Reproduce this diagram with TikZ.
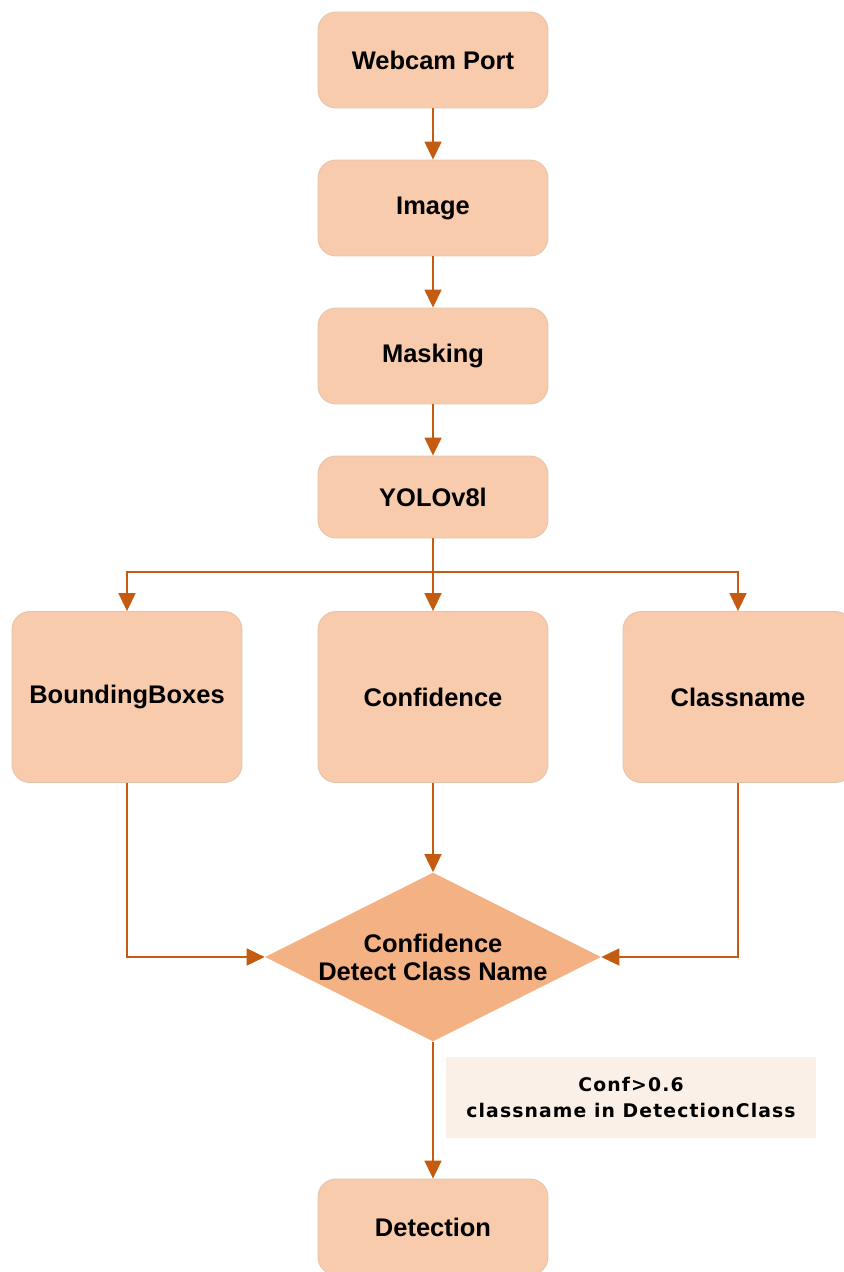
\documentclass[tikz,border=0pt]{standalone}
\usepackage{fontspec}
\usepackage{xcolor}
\usepackage{tikz}
\usetikzlibrary{arrows.meta,shapes.geometric}
\setmainfont{Liberation Sans}
\newfontfamily\notefont[LetterSpace=6]{DejaVu Sans}
\definecolor{boxfill}{HTML}{F8CBAD}
\definecolor{boxline}{HTML}{E4C3A9}
\definecolor{diafill}{HTML}{F4B183}
\definecolor{arrcol}{HTML}{C55A11}
\definecolor{notefill}{HTML}{FBF0E7}
\tikzset{
	proc/.style={draw=boxline,line width=0.5pt,fill=boxfill,rounded corners=0.36cm,
		minimum width=4.6cm,minimum height=1.92cm,inner sep=0pt,
		font=\fontsize{14.5}{16}\selectfont\bfseries},
	branchbox/.style={proc,minimum height=3.42cm},
	decide/.style={diamond,fill=diafill,aspect=2,inner sep=0pt,inner xsep=-0.32cm,
		minimum width=6.72cm,minimum height=3.38cm,align=center,
		font=\fontsize{14.5}{16}\selectfont\bfseries},
	note/.style={fill=notefill,minimum width=7.4cm,minimum height=1.62cm,align=center,
		font=\notefont\fontsize{10.7}{14.8}\selectfont\bfseries},
	arr/.style={draw=arrcol,line width=0.9pt,-{Triangle[length=0.36cm,width=0.34cm]}}
}
\begin{document}
\begin{tikzpicture}[x=0.02cm,y=-0.02cm]
		\useasboundingbox (0,0) rectangle (843,1272);
		\coordinate (split) at (433,572);
		\node[proc] (webcam) at (433,60) {Webcam Port};
		\node[proc] (image) at (433,208) {Image};
		\node[proc] (masking) at (433,356) {Masking};
		\node[proc,minimum height=1.64cm] (yolo) at (433,497) {YOLOv8l};
		\node[branchbox] (bbox) at (127,697) {BoundingBoxes};
		\node[branchbox] (conf) at (433,697) {Confidence};
		\node[branchbox] (cls) at (738,697) {Classname};
		\node[decide] (dec) at (433,957) {Confidence\\Detect Class Name};
		\node[note] (cond) at (631,1097) {Conf>0.6\\classname in DetectionClass};
		\node[proc] (det) at (433,1227) {Detection};
		\draw[arr] (webcam) -- (image);
		\draw[arr] (image) -- (masking);
		\draw[arr] (masking) -- (yolo);
		\draw[arr] (yolo) -- (conf);
		\draw[arr] (split) -| (bbox.north);
		\draw[arr] (split) -| (cls.north);
		\draw[arr] (bbox.south) |- (dec.west);
		\draw[arr] (conf) -- (dec.north);
		\draw[arr] (cls.south) |- (dec.east);
		\draw[arr] (dec.south) -- (det.north);
	\end{tikzpicture}
\end{document}
